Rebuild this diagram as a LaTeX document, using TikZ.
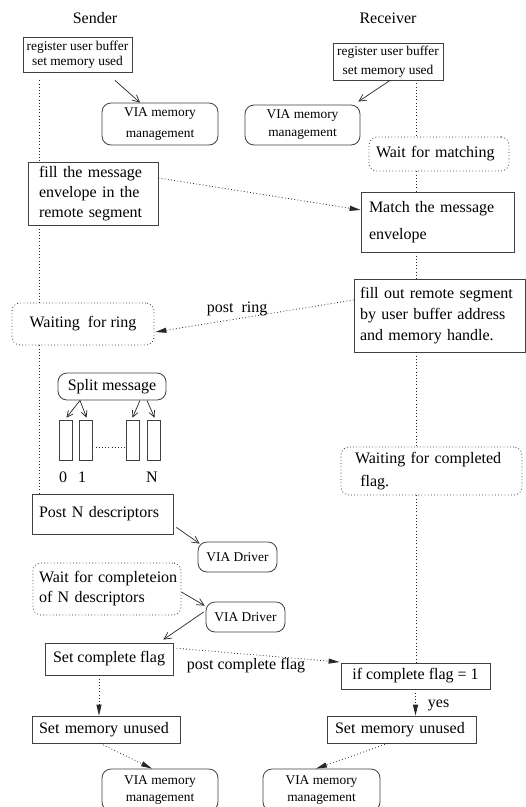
\documentclass[tikz,border=0pt]{standalone}
\usepackage{fontspec}
\setmainfont{Liberation Serif}
\usetikzlibrary{arrows.meta,calc}
\begin{document}
\begin{tikzpicture}[x=1pt,y=-1pt,
  bx/.style={draw=black!75, line width=0.8pt, inner sep=0pt, rectangle},
  rbx/.style={bx, rounded corners=9pt},
  dbx/.style={rectangle, rounded corners=8pt, draw=black!80, line width=0.8pt, dash pattern=on 0.8pt off 2.4pt, inner sep=0pt},
  big/.style={font=\fontsize{16}{20}\selectfont},
  dots/.style={draw=black!85, line width=0.8pt, dash pattern=on 0.8pt off 2.4pt},
  darr/.style={dots, -{Triangle[length=11pt,width=5pt]}},
  sarr/.style={draw=black!85, line width=0.7pt, -{Straight Barb[length=7pt,width=7pt]}},
  ssarr/.style={draw=black!85, line width=0.7pt, -{Straight Barb[length=6pt,width=6pt]}}
]
\fill[white] (0,0) rectangle (526,807);
\useasboundingbox (0,0) rectangle (526,807);

% titles
\node[big] (tsend) at (95,18) {Sender};
\node[big] (trecv) at (388,18) {Receiver};

% top boxes
\node[bx, minimum width=109pt, minimum height=35pt, align=center, font={\fontsize{13.4}{15}\selectfont}] (sreg) at (77.5,54.5) {register user buffer\\set memory used};
\node[bx, minimum width=110pt, minimum height=37pt, align=center, font={\fontsize{13.4}{19}\selectfont}] (rreg) at (388,61.5) {register user buffer\\set memory used};
\node[rbx, minimum width=116pt, minimum height=42pt, align=center, font={\fontsize{13.4}{21}\selectfont}] (svia) at (160,124) {VIA memory\\management};
\node[rbx, minimum width=115pt, minimum height=40pt, align=center, font={\fontsize{13.4}{18}\selectfont}] (rvia) at (302.5,125) {VIA memory\\management};

% receiver side
\node[dbx, minimum height=34pt, text width=126pt, inner xsep=7pt, align=left, font={\fontsize{16}{20}\selectfont}] (wmatch) at (439,154) {Wait for matching};
\node[bx, minimum height=60pt, text width=137pt, inner xsep=8pt, align=left, font={\fontsize{16}{27}\selectfont}] (match) at (437.5,222) {Match the message\\envelope};
\node[bx, minimum height=73pt, text width=159pt, inner xsep=6pt, align=left, font={\fontsize{16}{21}\selectfont}] (fillout) at (439.5,315.5) {fill out remote segment\\by user buffer address\\and memory handle.};
\node[dbx, minimum height=48pt, text width=153pt, inner xsep=14pt, align=left, font={\fontsize{16}{23}\selectfont}] (wcompl) at (431.5,471) {Waiting for completed\\\ flag.};
\node[bx, minimum width=149pt, minimum height=26pt, align=center, big] (ifflag) at (415.5,676) {if complete flag = 1};
\node[bx, minimum height=27pt, text width=133pt, inner xsep=8pt, align=left, big] (smemR) at (401.5,729.5) {Set memory unused};
\node[rbx, minimum width=117pt, minimum height=42pt, align=center, font={\fontsize{13.4}{17}\selectfont}] (viaR) at (321.5,790) {VIA memory\\management};

% sender side
\node[bx, minimum height=63pt, text width=108pt, inner xsep=11pt, align=left, font={\fontsize{16}{20}\selectfont}] (fillmsg) at (93,193.5) {fill the message\\envelope in the\\remote segment};
\node[dbx, minimum width=142pt, minimum height=42pt, align=center, big] (wring) at (83,324) {Waiting\ \ for ring};
\node[rbx, rounded corners=9pt, minimum width=108pt, minimum height=27pt, align=center, big] (split) at (112,386.5) {Split message};
\node[bx, minimum width=13pt, minimum height=40pt] (rect0) at (65.5,440) {};
\node[bx, minimum width=13pt, minimum height=40pt] (rect1) at (85.5,440) {};
\node[bx, minimum width=13pt, minimum height=40pt] (rect2) at (132.5,440) {};
\node[bx, minimum width=13pt, minimum height=40pt] (rect3) at (153.5,440) {};
\node[big] (n0) at (63,477) {0};
\node[big] (n1) at (82,477) {1};
\node[big] (nN) at (152,477) {N};
\node[bx, minimum height=40pt, text width=127pt, inner xsep=7pt, align=left, big] (postN) at (102.5,514) {Post N descriptors};
\node[rbx, minimum width=79pt, minimum height=30pt, align=center, font={\fontsize{13.4}{16}\selectfont}] (vdrv1) at (237.5,557) {VIA Driver};
\node[dbx, minimum height=52pt, text width=136pt, inner xsep=6pt, align=left, font={\fontsize{16}{20}\selectfont}] (waitcomp) at (107,589) {\mbox{Wait for completeion}\\\mbox{of N descriptors}};
\node[rbx, minimum width=79pt, minimum height=30pt, align=center, font={\fontsize{13.4}{16}\selectfont}] (vdrv2) at (245.5,617) {VIA Driver};
\node[bx, minimum width=128pt, minimum height=32pt, align=center, big] (setflag) at (109,659) {Set complete flag};
\node[bx, minimum height=27pt, text width=134pt, inner xsep=7pt, align=left, big] (smemL) at (106,729.5) {Set memory unused};
\node[rbx, minimum width=116pt, minimum height=42pt, align=center, font={\fontsize{13.4}{17}\selectfont}] (viaL) at (160,790) {VIA memory\\management};

% lifelines
\coordinate (sx) at (39,0);
\coordinate (rx) at (416,0);
\draw[dots] ($(sx |- sreg.south)+(0,8)$) -- (sx |- fillmsg.north);
\draw[dots] (sx |- fillmsg.south) -- (sx |- wring.north);
\draw[dots] (sx |- wring.south) -- (sx |- postN.north);
\draw[dots] ($(rx |- rreg.south)+(0,3)$) -- (rx |- wmatch.north);
\draw[dots] (rx |- wmatch.south) -- (rx |- match.north);
\draw[dots] (rx |- match.south) -- (rx |- fillout.north);
\draw[dots] (rx |- fillout.south) -- (rx |- wcompl.north);
\draw[dots] (rx |- wcompl.south) -- (rx |- ifflag.north);

% solid arrows
\draw[sarr] ($(sreg.south)+(37.5,8)$) -- ($(svia.north)+(-20,0)$);
\draw[sarr] ($(rreg.south)+(2,0)$) -- ($(rvia.north east)+(-2,-3)$);
\draw[sarr] ($(postN.south east)+(3,-7)$) -- ($(vdrv1.north west)+(2,2)$);
\draw[sarr] ($(waitcomp.east)+(0,3)$) -- ($(vdrv2.north west)+(-1,4)$);
\draw[sarr] ($(vdrv2.west)+(-2,-5)$) -- ($(setflag.north east)+(-10,-3)$);
\draw[ssarr] ($(split.south)+(-32,0)$) -- ($(rect0.north)+(1,-2)$);
\draw[ssarr] ($(split.south)+(-32,0)$) -- ($(rect1.north)+(1,-2)$);
\draw[ssarr] ($(split.south)+(28,0)$) -- ($(rect2.north)+(0,-2)$);
\draw[ssarr] ($(split.south)+(35,0)$) -- ($(rect3.north)+(1,-2)$);
\draw[dots] ($(rect1.east)+(0,7)$) -- ($(rect2.west)+(0,7)$);

% dotted arrows
\draw[darr] ($(fillmsg.east)+(0,-15.5)$) -- ($(match.west)+(0,-12)$);
\draw[darr] ($(fillout.west)+(0,-15.5)$) -- node[pos=0.588, yshift=9.8pt, inner sep=0pt, big] (lring) {post\ \ ring} ($(wring.east)+(1,8)$);
\draw[darr] ($(setflag.east)+(0,-11)$) -- node[pos=0.437, yshift=-11pt, inner sep=0pt, big] (lcf) {post complete flag} ($(ifflag.west)+(-1,-14)$);
\draw[darr] (ifflag.south) -- node[pos=0.6, anchor=west, xshift=12pt, inner sep=0pt, big] (lyes) {yes} (ifflag.south |- smemR.north);
\draw[darr] ($(smemR.south)+(-13.5,0)$) -- ($(viaR.north)+(-5.5,0)$);
\draw[darr] ($(setflag.south)+(-10,0)$) -- ($(setflag.south |- smemL.north)+(-10,0)$);
\draw[darr] ($(smemL.south)+(-6,0)$) -- ($(viaL.north)+(-8,0)$);
\end{tikzpicture}
\end{document}
